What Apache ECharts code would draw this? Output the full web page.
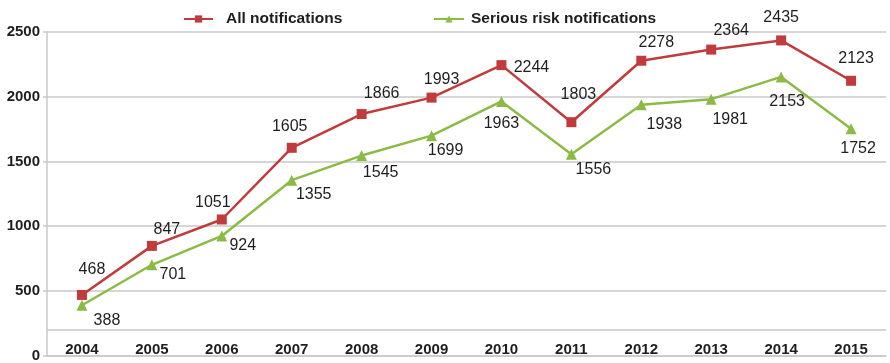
<!DOCTYPE html>
<html>
<head>
<meta charset="utf-8">
<style>
  html, body { margin: 0; padding: 0; background: #ffffff; }
  #chart { width: 890px; height: 363px; }
</style>
<script src="https://cdn.jsdelivr.net/npm/echarts@6/dist/echarts.min.js"></script>
</head>
<body>
<div id="chart"></div>
<script>
// Notification counts per year
const years = ['2004', '2005', '2006', '2007', '2008', '2009', '2010', '2011', '2012', '2013', '2014', '2015'];
const allNotifications = [468, 847, 1051, 1605, 1866, 1993, 2244, 1803, 2278, 2364, 2435, 2123];
const seriousRisk = [388, 701, 924, 1355, 1545, 1699, 1963, 1556, 1938, 1981, 2153, 1752];
const yTicks = [0, 500, 1000, 1500, 2000, 2500];
const baselineValue = 200;

// Where each value label sits relative to its marker, [dx, dy] in px
const allLabelOffsets = [[10, -25], [15, -16], [-9, -17], [-2, -21], [20, -20], [10, -18],
                         [30, 2], [7, -28], [15, -18], [20, -19], [0, -23], [5, -22]];
const seriousLabelOffsets = [[25, 15], [21, 10], [21, 10], [22, 14], [19, 17], [14, 15],
                             [0, 22], [22, 15], [23, 20], [19, 20], [6, 25], [7, 20]];

const FONT = '"Liberation Sans", Arial, Helvetica, sans-serif';
const RED = '#c23b3c';
const GREEN = '#8cbb45';
const GRID = '#c9c9c9';

function withLabels(values, offsets) {
  return values.map((v, i) => ({
    value: v,
    label: { offset: offsets[i] }
  }));
}

const valueLabel = {
  show: true,
  position: 'inside',
  align: 'center',
  verticalAlign: 'middle',
  color: '#1e1e1e',
  fontFamily: FONT,
  fontSize: 16
};

const chart = echarts.init(document.getElementById('chart'), null, { renderer: 'canvas' });

chart.setOption({
  animation: false,
  backgroundColor: '#ffffff',
  textStyle: { fontFamily: FONT },
  legend: [
    {
      data: ['All notifications'],
      left: 178, top: 6,
      itemWidth: 29, itemHeight: 9,
      textStyle: { fontFamily: FONT, fontWeight: 'bold', fontSize: 15.5, color: '#1e1e1e', padding: [0, 0, 0, 8] }
    },
    {
      data: ['Serious risk notifications'],
      left: 428, top: 6,
      itemWidth: 30, itemHeight: 9,
      textStyle: { fontFamily: FONT, fontWeight: 'bold', fontSize: 15.5, color: '#1e1e1e', padding: [0, 0, 0, 2] }
    }
  ],
  grid: { left: 47, right: 4, top: 32, bottom: 6, containLabel: false },
  xAxis: {
    type: 'category',
    data: years,
    boundaryGap: true,
    axisLine: { show: true, lineStyle: { color: GRID, width: 1.5 } },
    axisTick: { show: false },
    axisLabel: {
      inside: true,
      margin: -2,
      color: '#1e1e1e',
      fontFamily: FONT,
      fontWeight: 'bold',
      fontSize: 15
    },
    splitLine: { show: false }
  },
  yAxis: {
    type: 'value',
    min: yTicks[0],
    max: yTicks[yTicks.length - 1],
    interval: yTicks[1] - yTicks[0],
    axisLine: { show: true, lineStyle: { color: GRID, width: 1.5 } },
    axisTick: { show: true, length: 4, lineStyle: { color: GRID, width: 1.5 } },
    axisLabel: {
      margin: 7,
      color: '#1e1e1e',
      fontFamily: FONT,
      fontWeight: 'bold',
      fontSize: 15,
      formatter: (v) => String(v)
    },
    splitLine: { show: true, lineStyle: { color: GRID, width: 1.5 } }
  },
  series: [
    {
      name: 'All notifications',
      type: 'line',
      data: withLabels(allNotifications, allLabelOffsets),
      color: RED,
      symbol: 'rect',
      symbolSize: 10,
      lineStyle: { color: RED, width: 2.5 },
      itemStyle: { color: RED },
      label: valueLabel,
      z: 3,
      markLine: {
        silent: true,
        symbol: 'none',
        label: { show: false },
        lineStyle: { color: GRID, width: 1.5, type: 'solid' },
        data: [{ yAxis: baselineValue }],
        z: 1
      }
    },
    {
      name: 'Serious risk notifications',
      type: 'line',
      data: withLabels(seriousRisk, seriousLabelOffsets),
      color: GREEN,
      symbol: 'triangle',
      symbolSize: 11,
      lineStyle: { color: GREEN, width: 2.5 },
      itemStyle: { color: GREEN },
      label: valueLabel,
      z: 2
    }
  ]
});
</script>
</body>
</html>
